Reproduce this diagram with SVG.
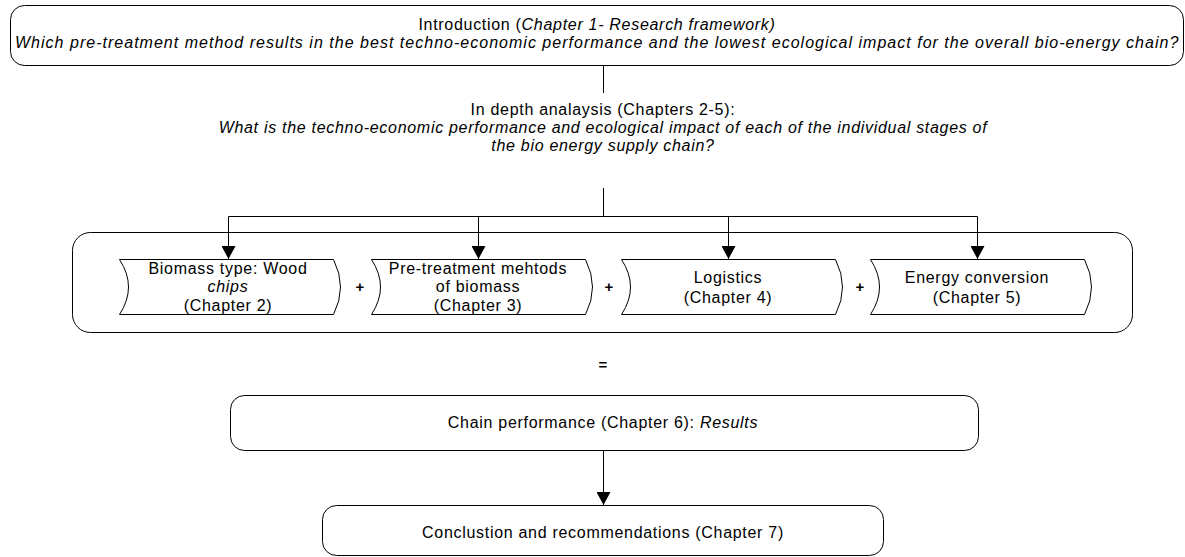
<svg xmlns="http://www.w3.org/2000/svg" width="1185" height="557" viewBox="0 0 1185 557">
<style>
.box{fill:#fff;stroke:#000;stroke-width:1}
.ln{fill:none;stroke:#000;stroke-width:1}
.t{font-family:"Liberation Sans",Arial,sans-serif;font-size:16px;letter-spacing:0.7px;fill:#000;text-anchor:middle}
.i{font-style:italic}
.b{font-weight:bold;font-size:15px;letter-spacing:0}
</style>
<defs>
<marker id="ah" markerWidth="13" markerHeight="14" refX="13" refY="7" orient="auto" markerUnits="userSpaceOnUse">
<path d="M0,0 L13,7 L0,14 Z" fill="#000"/>
</marker>
</defs>
<g id="intro">
<rect class="box" x="10.5" y="5.5" width="1173" height="60" rx="14"/>
<text class="t" x="597" y="30">Introduction (<tspan class="i">Chapter 1-  Research framework)</tspan></text>
<text class="t i" x="597" y="48" textLength="1164" lengthAdjust="spacing">Which pre-treatment method results in the best techno-economic performance and the lowest ecological impact for the overall bio-energy chain?</text>
</g>
<g id="analysis">
<text class="t" x="603" y="115">In depth analaysis (Chapters 2-5):</text>
<text class="t i" x="603" y="133">What is the techno-economic performance and ecological impact of each of the individual stages of</text>
<text class="t i" x="603" y="151">the bio energy supply chain?</text>
</g>
<g id="container">
<rect class="box" x="72.5" y="232.5" width="1060" height="100" rx="18"/>
</g>
<g id="biomass">
<path class="box" d="M119.5,259.5 H333.5 Q347.5,287 333.5,314.5 H119.5 Q137.5,287 119.5,259.5 Z"/>
<text class="t" x="228" y="274">Biomass type: Wood</text>
<text class="t i" x="228" y="292">chips</text>
<text class="t" x="228" y="311">(Chapter 2)</text>
</g>
<g id="pretreatment">
<path class="box" d="M371.5,259.5 H585.5 Q599.5,287 585.5,314.5 H371.5 Q389.5,287 371.5,259.5 Z"/>
<text class="t" x="478" y="274">Pre-treatment mehtods</text>
<text class="t" x="478" y="292">of biomass</text>
<text class="t" x="478" y="311">(Chapter 3)</text>
</g>
<g id="logistics">
<path class="box" d="M621.5,259.5 H835.5 Q849.5,287 835.5,314.5 H621.5 Q639.5,287 621.5,259.5 Z"/>
<text class="t" x="728" y="283">Logistics</text>
<text class="t" x="728" y="303">(Chapter 4)</text>
</g>
<g id="conversion">
<path class="box" d="M870.5,259.5 H1084.5 Q1098.5,287 1084.5,314.5 H870.5 Q888.5,287 870.5,259.5 Z"/>
<text class="t" x="977" y="283">Energy conversion</text>
<text class="t" x="977" y="303">(Chapter 5)</text>
</g>
<g id="operators">
<text class="t b" x="360" y="292">+</text>
<text class="t b" x="609" y="292">+</text>
<text class="t b" x="860" y="292">+</text>
<text class="t b" x="603" y="370">=</text>
</g>
<g id="chain">
<rect class="box" x="230.5" y="395.5" width="748" height="55" rx="14"/>
<text class="t" x="603" y="428">Chain performance (Chapter 6): <tspan class="i">Results</tspan></text>
</g>
<g id="conclusion">
<rect class="box" x="322.5" y="505.5" width="561" height="50" rx="14"/>
<text class="t" x="603" y="538">Conclustion and recommendations (Chapter 7)</text>
</g>
<g id="connectors">
<line class="ln" x1="603.5" y1="66" x2="603.5" y2="93"/>
<line class="ln" x1="603.5" y1="188" x2="603.5" y2="216.5"/>
<line class="ln" x1="228.5" y1="216.5" x2="977.5" y2="216.5"/>
<line class="ln" x1="228.5" y1="216.5" x2="228.5" y2="259" marker-end="url(#ah)"/>
<line class="ln" x1="478.5" y1="216.5" x2="478.5" y2="259" marker-end="url(#ah)"/>
<line class="ln" x1="728.5" y1="216.5" x2="728.5" y2="259" marker-end="url(#ah)"/>
<line class="ln" x1="977.5" y1="216.5" x2="977.5" y2="259" marker-end="url(#ah)"/>
<line class="ln" x1="603.5" y1="451" x2="603.5" y2="505" marker-end="url(#ah)"/>
</g>
</svg>
